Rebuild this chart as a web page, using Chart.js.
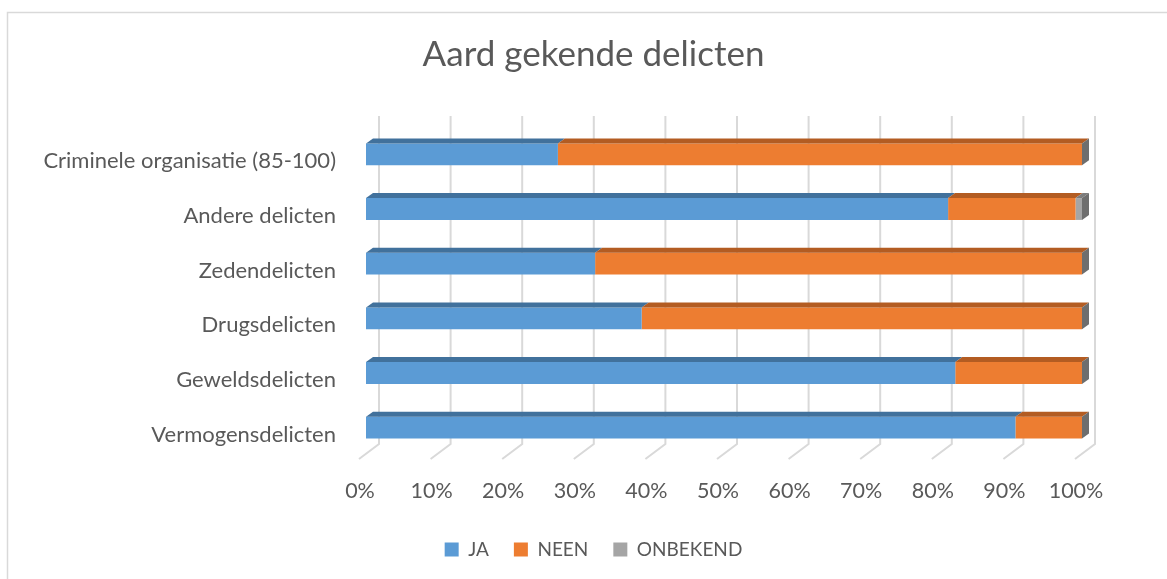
<!DOCTYPE html>
<html>
<head>
<meta charset="utf-8">
<script src="https://cdn.jsdelivr.net/npm/chart.js@4.4.1/dist/chart.umd.min.js"></script>
<style>
  html, body { margin: 0; padding: 0; background: #fff; }
  #wrap { width: 1167px; height: 579px; }
</style>
</head>
<body>
<div id="wrap"><canvas id="chart" width="1167" height="579"></canvas></div>
<script>
// Data (percent of cases)
const categories = [
  'Criminele organisatie (85-100)',
  'Andere delicten',
  'Zedendelicten',
  'Drugsdelicten',
  'Geweldsdelicten',
  'Vermogensdelicten'
];
const ja       = [26.8, 81.3, 32.0, 38.5, 82.3, 90.7];
const neen     = [73.2, 17.8, 68.0, 61.5, 17.7, 9.3];
const onbekend = [0, 0.9, 0, 0, 0, 0];
const tickValues = [0, 10, 20, 30, 40, 50, 60, 70, 80, 90, 100];

const textColor = '#595959';
const fontFamily = 'Lato, "Open Sans", sans-serif';

// colours: front face, top face (darker)
const faces = [
  { front: '#5B9BD5', top: '#41719C' },
  { front: '#ED7D31', top: '#B35C22' },
  { front: '#A5A5A5', top: '#7C7C7C' }
];
const sideColor = '#6E6E6E';
const gridColor = '#D9D9D9';

// fake 3D: depth offset of the bars and of the back wall
const depth = { dx: 7, dy: 5 };
const wall = { back: 13, front: -7 };

const pseudo3d = {
  id: 'pseudo3d',
  beforeDraw(chart) {
    const ctx = chart.ctx;
    ctx.save();
    // chart frame (only left and top are visible)
    ctx.strokeStyle = gridColor;
    ctx.lineWidth = 1.5;
    ctx.beginPath();
    ctx.moveTo(7.5, chart.height + 5);
    ctx.lineTo(7.5, 12.5);
    ctx.lineTo(chart.width + 5, 12.5);
    ctx.stroke();
    ctx.restore();
  },
  beforeDatasetsDraw(chart) {
    const { ctx, chartArea } = chart;
    const x = chart.scales.x;
    const top = chartArea.top - 11;
    const floorBack = chartArea.bottom - 11;
    const floorFront = chartArea.bottom + 4;
    ctx.save();
    ctx.strokeStyle = gridColor;
    ctx.lineWidth = 2;
    tickValues.forEach(v => {
      const px = x.getPixelForValue(v);
      ctx.beginPath();
      ctx.moveTo(px + wall.back, top);
      ctx.lineTo(px + wall.back, floorBack);
      ctx.lineTo(px + wall.front, floorFront);
      ctx.stroke();
    });
    ctx.restore();
  },
  afterDatasetsDraw(chart) {
    const ctx = chart.ctx;
    const last = chart.data.datasets.length - 1;
    ctx.save();
    chart.data.datasets.forEach((ds, i) => {
      const meta = chart.getDatasetMeta(i);
      meta.data.forEach(bar => {
        const p = bar.getProps(['x', 'y', 'base', 'height'], true);
        const l = Math.min(p.x, p.base);
        const r = Math.max(p.x, p.base);
        const t = p.y - p.height / 2;
        const b = p.y + p.height / 2;
        // top face
        if (r > l) {
          ctx.fillStyle = faces[i].top;
          ctx.beginPath();
          ctx.moveTo(l, t);
          ctx.lineTo(l + depth.dx, t - depth.dy);
          ctx.lineTo(r + depth.dx, t - depth.dy);
          ctx.lineTo(r, t);
          ctx.closePath();
          ctx.fill();
        }
        // side face at the end of the stack
        if (i === last) {
          ctx.fillStyle = sideColor;
          ctx.beginPath();
          ctx.moveTo(r, t);
          ctx.lineTo(r + depth.dx, t - depth.dy);
          ctx.lineTo(r + depth.dx, b - depth.dy);
          ctx.lineTo(r, b);
          ctx.closePath();
          ctx.fill();
        }
      });
    });
    ctx.restore();
  }
};

Chart.defaults.font.family = fontFamily;
Chart.defaults.color = textColor;

new Chart(document.getElementById('chart'), {
  type: 'bar',
  data: {
    labels: categories,
    datasets: [
      { label: 'JA', data: ja, backgroundColor: faces[0].front },
      { label: 'NEEN', data: neen, backgroundColor: faces[1].front },
      { label: 'ONBEKEND', data: onbekend, backgroundColor: faces[2].front }
    ]
  },
  options: {
    indexAxis: 'y',
    responsive: false,
    animation: false,
    layout: { padding: { left: 20, right: 0, top: 0, bottom: 10 } },
    datasets: {
      bar: { categoryPercentage: 1, barPercentage: 0.4, borderWidth: 0 }
    },
    plugins: {
      title: {
        display: true,
        text: 'Aard gekende delicten',
        color: textColor,
        font: { size: 35, weight: 'normal' },
        padding: { top: 34, bottom: 51 }
      },
      legend: {
        position: 'bottom',
        labels: {
          boxWidth: 14,
          boxHeight: 14,
          padding: 25,
          color: textColor,
          font: { size: 19 }
        }
      },
      tooltip: { enabled: false }
    },
    scales: {
      x: {
        stacked: true,
        min: 0,
        max: 100,
        grid: { display: false, drawTicks: false },
        border: { display: false },
        afterBuildTicks: scale => { scale.ticks = tickValues.map(v => ({ value: v })); },
        afterFit: scale => { scale.height = 60; },
        ticks: {
          callback: v => v + '%',
          color: textColor,
          font: { size: 21.5 },
          padding: 23,
          labelOffset: -6,
          maxRotation: 0,
          autoSkip: false
        }
      },
      y: {
        stacked: true,
        grid: { display: false, drawTicks: false },
        border: { display: false },
        afterFit: scale => { scale.width = 346; },
        ticks: {
          color: textColor,
          font: { size: 22 },
          padding: 30,
          labelOffset: 7
        }
      },
      // empty spacer on the right so that title and legend stay centred
      spacer: {
        type: 'linear',
        axis: 'y',
        position: 'right',
        grid: { display: false, drawTicks: false },
        border: { display: false },
        ticks: { display: false },
        afterFit: scale => { scale.width = 85; }
      }
    }
  },
  plugins: [pseudo3d]
});
</script>
</body>
</html>
